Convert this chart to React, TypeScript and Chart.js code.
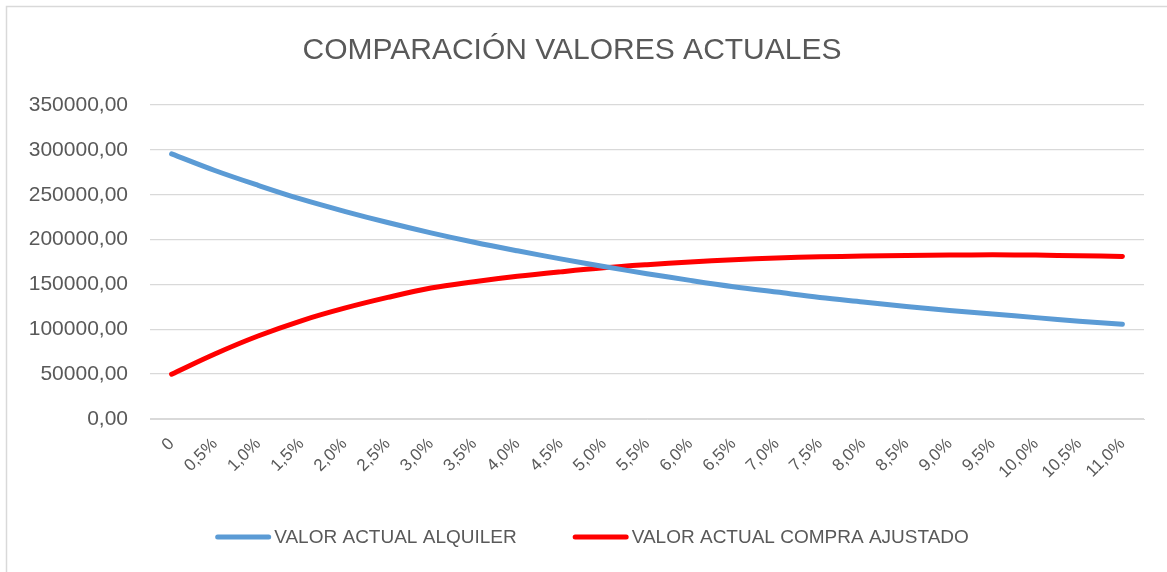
import React, { useEffect, useRef } from "react";
import { Chart, registerables } from "chart.js";

Chart.register(...registerables);

const TITLE = "COMPARACIÓN VALORES ACTUALES";
const categories = [
  "0", "0,5%", "1,0%", "1,5%", "2,0%", "2,5%", "3,0%", "3,5%", "4,0%", "4,5%",
  "5,0%", "5,5%", "6,0%", "6,5%", "7,0%", "7,5%", "8,0%", "8,5%", "9,0%", "9,5%",
  "10,0%", "10,5%", "11,0%",
];
const alquilerLabel = "VALOR ACTUAL ALQUILER";
const alquilerValues = [
  295500, 277000, 260500, 245000, 231500, 219000, 207500, 197000, 187500, 178500,
  170000, 162000, 154500, 147500, 141500, 135500, 130500, 125500, 121000, 117000,
  113000, 109000, 105500,
];
const compraLabel = "VALOR ACTUAL COMPRA AJUSTADO";
const compraValues = [
  50000, 72500, 92500, 109500, 123500, 135500, 146000, 153000, 159000, 164000,
  168500, 172000, 175000, 177500, 179500, 180800, 181600, 182300, 182700, 183000,
  182700, 182000, 181200,
];
const yTicksMax = 350000;
const yTickStep = 50000;

const FONT = "'Liberation Sans', Arial, sans-serif";
const TEXT_COLOR = "#595959";

const framePlugin = {
  id: "frame",
  beforeDraw(chart: any) {
    const ctx = chart.ctx;
    ctx.save();
    ctx.fillStyle = "#ffffff";
    ctx.fillRect(0, 0, chart.width, chart.height);
    ctx.strokeStyle = "#d9d9d9";
    ctx.lineWidth = 1.5;
    ctx.beginPath();
    ctx.moveTo(6.5, chart.height);
    ctx.lineTo(6.5, 6.5);
    ctx.lineTo(chart.width, 6.5);
    ctx.stroke();
    ctx.restore();
  },
};

const legendPlugin = {
  id: "customLegend",
  afterDraw(chart: any) {
    const ctx = chart.ctx;
    const sets = chart.data.datasets;
    const fontSize = 19;
    const sampleW = 56;
    const gapText = 3;
    const gapItems = 56;
    ctx.save();
    ctx.font = `${fontSize}px ${FONT}`;
    const widths = sets.map(
      (d: any) => sampleW + gapText + ctx.measureText(d.label).width
    );
    const total = widths.reduce((a: number, b: number) => a + b, 0) + gapItems * (sets.length - 1);
    let x = 592 - total / 2;
    const y = 537;
    sets.forEach((d: any, i: number) => {
      ctx.strokeStyle = d.borderColor;
      ctx.lineWidth = 5;
      ctx.lineCap = "round";
      ctx.beginPath();
      ctx.moveTo(x + 2.5, y);
      ctx.lineTo(x + sampleW - 2.5, y);
      ctx.stroke();
      ctx.fillStyle = TEXT_COLOR;
      ctx.textBaseline = "middle";
      ctx.textAlign = "left";
      ctx.fillText(d.label, x + sampleW + gapText, y + 1);
      x += widths[i] + gapItems;
    });
    ctx.restore();
  },
};

export default function App() {
  const ref = useRef<HTMLCanvasElement | null>(null);

  useEffect(() => {
    document.body.style.margin = "0";
    const canvas = ref.current;
    if (!canvas) return;
    const chart = new Chart(canvas, {
      type: "line",
      data: {
        labels: categories,
        datasets: [
          {
            label: alquilerLabel,
            data: alquilerValues,
            borderColor: "#5b9bd5",
            backgroundColor: "#5b9bd5",
            borderWidth: 5,
            pointRadius: 0,
            tension: 0.35,
            borderCapStyle: "round",
            fill: false,
          },
          {
            label: compraLabel,
            data: compraValues,
            borderColor: "#ff0000",
            backgroundColor: "#ff0000",
            borderWidth: 5,
            pointRadius: 0,
            tension: 0.35,
            borderCapStyle: "round",
            fill: false,
          },
        ],
      },
      options: {
        animation: false,
        responsive: false,
        maintainAspectRatio: false,
        layout: { padding: { top: 0, left: 0, right: 23, bottom: 53 } },
        plugins: {
          legend: { display: false },
          tooltip: { enabled: false },
          title: {
            display: true,
            text: TITLE,
            color: TEXT_COLOR,
            font: { family: FONT, size: 30, weight: "normal", lineHeight: 1.2 },
            padding: { top: 33, bottom: 36 },
          },
        },
        scales: {
          x: {
            type: "category",
            offset: true,
            grid: { display: false, drawTicks: false },
            border: { display: true, color: "#d9d9d9", width: 1 },
            ticks: {
              autoSkip: false,
              maxRotation: 45,
              minRotation: 45,
              padding: 15,
              color: TEXT_COLOR,
              font: { family: FONT, size: 17 },
            },
            afterFit(scale: any) {
              scale.height = 100;
              scale.paddingLeft = 0;
              scale.paddingRight = 0;
            },
          },
          y: {
            min: 0,
            max: yTicksMax,
            grid: { color: "#d9d9d9", lineWidth: 1.3, drawTicks: false },
            border: { display: false },
            ticks: {
              stepSize: yTickStep,
              padding: 22,
              color: TEXT_COLOR,
              font: { family: FONT, size: 21 },
              callback: (v: any) => Number(v).toFixed(2).replace(".", ","),
            },
            afterFit(scale: any) {
              scale.width = 150;
              scale.paddingTop = 0;
              scale.paddingBottom = 0;
            },
          },
        },
      },
      plugins: [framePlugin, legendPlugin],
    } as any);
    return () => chart.destroy();
  }, []);

  return (
    <div style={{ width: 1167, height: 572 }}>
      <canvas ref={ref} width={1167} height={572} style={{ display: "block" }} />
    </div>
  );
}
